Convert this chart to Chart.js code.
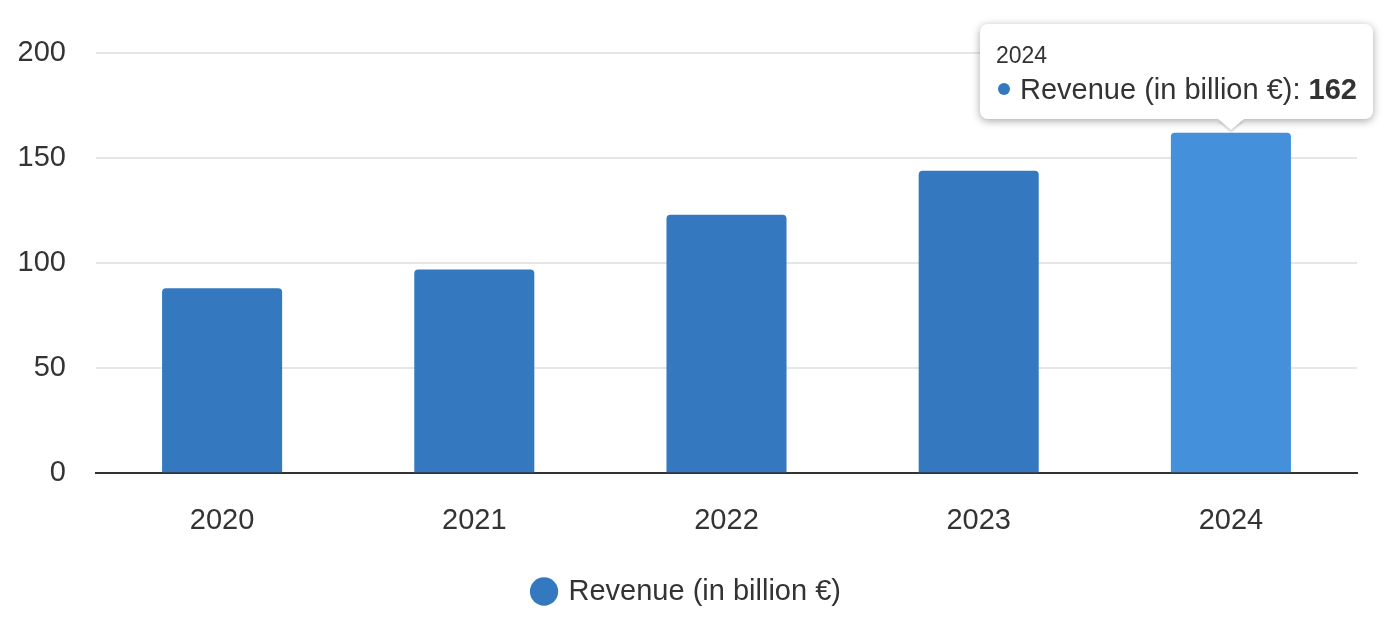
<!DOCTYPE html>
<html>
<head>
<meta charset="utf-8">
<script src="https://cdn.jsdelivr.net/npm/chart.js@4"></script>
<style>
    html, body { margin: 0; padding: 0; background: #fff; }
    #wrap { position: relative; width: 1400px; height: 638px; }
    #tip {
        position: absolute; background: #fff; border-radius: 8px;
        box-shadow: 0 2px 8px rgba(0,0,0,0.35);
        font-family: "Liberation Sans", Arial, sans-serif; color: #333;
        padding: 17px 16px 12px 16px; white-space: nowrap; pointer-events: none;
        opacity: 0;
    }
    #tip .t { font-size: 23px; line-height: 28px; }
    #tip .b { font-size: 29px; line-height: 35px; margin-top: 3px; }
    #tip .dot { display: inline-block; width: 12px; height: 12px; border-radius: 50%; margin: 0 10px 0 2px; vertical-align: 4px; }
    #tip:after {
        content: ''; position: absolute; bottom: -11px; left: var(--cx, 50%);
        margin-left: -13px; border-left: 13px solid transparent; border-right: 13px solid transparent;
        border-top: 11px solid #fff; filter: drop-shadow(0 2px 1px rgba(0,0,0,0.2));
    }
</style>
</head>
<body>
<div id="wrap">
    <canvas id="c" width="1400" height="638"></canvas>
    <div id="tip"></div>
</div>
<script>
(function () {
    'use strict';

    var years = ['2020', '2021', '2022', '2023', '2024'];
    var revenue = [88, 97, 123, 144, 162];
    var yTicks = [0, 50, 100, 150, 200];
    var seriesLabel = 'Revenue (in billion €)';
    var activeIndex = 4;

    var barColor = '#3479bf';
    var hoverColor = '#4490db';
    var textCol = '#333333';
    var font = 'Liberation Sans, Arial, sans-serif';

    /** HTML tooltip so the value can be bold inside the line. */
    function externalTip(context) {
        var tip = document.getElementById('tip');
        var t = context.tooltip;
        if (!t || t.opacity === 0 || !t.dataPoints || !t.dataPoints.length) { tip.style.opacity = 0; return; }
        var dp = t.dataPoints[0];
        tip.innerHTML = '<div class="t">' + dp.label + '</div>'
            + '<div class="b"><span class="dot" style="background:' + barColor + '"></span>'
            + dp.dataset.label + ': <b>' + dp.formattedValue + '</b></div>';
        var w = tip.offsetWidth, h = tip.offsetHeight;
        var cw = context.chart.width;
        var left = Math.min(t.caretX - w / 2, cw - w - 27);
        tip.style.left = left + 'px';
        tip.style.top = (t.caretY - 14 - h) + 'px';
        tip.style.setProperty('--cx', (t.caretX - left) + 'px');
        tip.style.opacity = 1;
    }

    var chart = new Chart(document.getElementById('c'), {
        type: 'bar',
        data: {
            labels: years,
            datasets: [{
                label: seriesLabel,
                data: revenue,
                backgroundColor: barColor,
                hoverBackgroundColor: hoverColor,
                borderRadius: { topLeft: 4, topRight: 4 },
                borderSkipped: 'bottom',
                categoryPercentage: 0.476,
                barPercentage: 1
            }]
        },
        options: {
            responsive: false,
            animation: false,
            events: [],
            layout: { padding: { top: 53, left: 18, right: 43, bottom: 22 } },
            plugins: {
                legend: {
                    position: 'bottom',
                    labels: {
                        usePointStyle: true, pointStyle: 'circle',
                        boxWidth: 20, boxHeight: 20, padding: 9,
                        color: textCol, font: { family: font, size: 29 }
                    }
                },
                tooltip: { enabled: false, external: externalTip }
            },
            scales: {
                x: {
                    grid: { display: false, drawTicks: false },
                    border: { display: true, color: '#333333', width: 2 },
                    ticks: { color: textCol, padding: 30, font: { family: font, size: 29 } }
                },
                y: {
                    min: 0, max: 200,
                    afterBuildTicks: function (axis) {
                        axis.ticks = yTicks.map(function (v) { return { value: v }; });
                    },
                    afterFit: function (axis) { axis.width = 78; },
                    grid: { color: '#e6e6e6', lineWidth: 2, drawTicks: false },
                    border: { display: false },
                    ticks: { color: textCol, padding: 30, font: { family: font, size: 29 } }
                }
            }
        }
    });

    var el = chart.getDatasetMeta(0).data[activeIndex];
    chart.setActiveElements([{ datasetIndex: 0, index: activeIndex }]);
    chart.tooltip.setActiveElements([{ datasetIndex: 0, index: activeIndex }], { x: el.x, y: el.y });
    chart.update();
})();
</script>
</body>
</html>
